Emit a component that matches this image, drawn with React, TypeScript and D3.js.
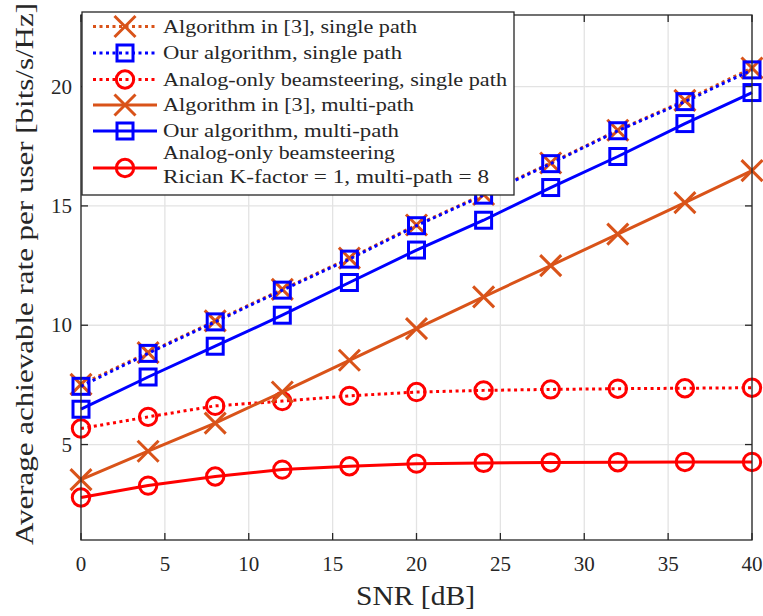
import React from "react";
import * as d3 from "d3";

const snr = [0, 4, 8, 12, 16, 20, 24, 28, 32, 36, 40];
const algSingle = [7.52, 8.85, 10.18, 11.5, 12.81, 14.2, 15.48, 16.8, 18.17, 19.42, 20.78];
const ourSingle = [7.44, 8.82, 10.14, 11.47, 12.77, 14.17, 15.45, 16.77, 18.15, 19.37, 20.7];
const analogSingle = [5.67, 6.16, 6.62, 6.82, 7.04, 7.2, 7.27, 7.31, 7.34, 7.36, 7.38];
const algMulti = [3.53, 4.72, 5.9, 7.2, 8.53, 9.86, 11.19, 12.5, 13.82, 15.14, 16.48];
const ourMulti = [6.48, 7.83, 9.12, 10.42, 11.79, 13.15, 14.4, 15.77, 17.07, 18.45, 19.75];
const analogMulti = [2.78, 3.28, 3.66, 3.95, 4.09, 4.2, 4.23, 4.25, 4.26, 4.27, 4.27];

const xTicks = [0, 5, 10, 15, 20, 25, 30, 35, 40];
const yTicks = [5, 10, 15, 20];

const ORANGE = "#D95319";
const BLUE = "#0000FF";
const RED = "#FF0000";

type Marker = "x" | "square" | "circle";
interface Series {
  label: string[];
  values: number[];
  color: string;
  dotted: boolean;
  marker: Marker;
}

const series: Series[] = [
  { label: ["Algorithm in [3], single path"], values: algSingle, color: ORANGE, dotted: true, marker: "x" },
  { label: ["Our algorithm, single path"], values: ourSingle, color: BLUE, dotted: true, marker: "square" },
  { label: ["Analog-only beamsteering, single path"], values: analogSingle, color: RED, dotted: true, marker: "circle" },
  { label: ["Algorithm in [3], multi-path"], values: algMulti, color: ORANGE, dotted: false, marker: "x" },
  { label: ["Our algorithm, multi-path"], values: ourMulti, color: BLUE, dotted: false, marker: "square" },
  { label: ["Analog-only beamsteering", "Rician K-factor = 1, multi-path = 8"], values: analogMulti, color: RED, dotted: false, marker: "circle" },
];

// layout: rendered widths of legend label lines (px)
const legendTextWidths = [[254], [239], [344], [251], [236], [232, 326]];

const W = 763;
const H = 616;
const left = 81;
const right = 752;
const top = 15;
const bottom = 540;
const FONT = "'Liberation Serif', 'Times New Roman', serif";
const AX = "#262626";
const SW = 3;

function MarkerShape({ type, cx, cy, color }: { type: Marker; cx: number; cy: number; color: string }) {
  if (type === "x") {
    const s = 10.5;
    return (
      <path
        d={`M${cx - s},${cy - s}L${cx + s},${cy + s}M${cx - s},${cy + s}L${cx + s},${cy - s}`}
        stroke={color}
        strokeWidth={SW}
        fill="none"
      />
    );
  }
  if (type === "square") {
    const s = 8;
    return <rect x={cx - s} y={cy - s} width={2 * s} height={2 * s} stroke={color} strokeWidth={SW} fill="none" />;
  }
  return <circle cx={cx} cy={cy} r={8.7} stroke={color} strokeWidth={SW} fill="none" />;
}

export default function App() {
  const x = d3.scaleLinear().domain([0, 40]).range([left, right]);
  const y = d3.scaleLinear().domain([1, 23]).range([bottom, top]);
  const line = d3
    .line<number>()
    .x((_, i) => x(snr[i]))
    .y((d) => y(d));

  const legX = 82;
  const legY = 12;
  const legW = 432;
  const legH = 183;
  const rowYs = [26.5, 53, 79.5, 105, 131, 168];

  return (
    <svg width={W} height={H} style={{ position: "absolute", left: 0, top: 0, background: "#fff" }}>
      <rect x={0} y={0} width={W} height={H} fill="#fff" />
      {xTicks.map((t) => (
        <line key={"gx" + t} x1={x(t)} x2={x(t)} y1={top} y2={bottom} stroke="#e3e3e3" strokeWidth={1.3} />
      ))}
      {yTicks.map((t) => (
        <line key={"gy" + t} x1={left} x2={right} y1={y(t)} y2={y(t)} stroke="#e3e3e3" strokeWidth={1.3} />
      ))}
      {xTicks.map((t) => (
        <g key={"tx" + t}>
          <line x1={x(t)} x2={x(t)} y1={bottom} y2={bottom - 7} stroke={AX} strokeWidth={1.3} />
          <line x1={x(t)} x2={x(t)} y1={top} y2={top + 7} stroke={AX} strokeWidth={1.3} />
          <text x={x(t)} y={571} textAnchor="middle" fontFamily={FONT} fontSize={21} fill={AX}>
            {t}
          </text>
        </g>
      ))}
      {yTicks.map((t) => (
        <g key={"ty" + t}>
          <line x1={left} x2={left + 7} y1={y(t)} y2={y(t)} stroke={AX} strokeWidth={1.3} />
          <line x1={right} x2={right - 7} y1={y(t)} y2={y(t)} stroke={AX} strokeWidth={1.3} />
          <text x={72} y={y(t)} dy="0.34em" textAnchor="end" fontFamily={FONT} fontSize={21} fill={AX}>
            {t}
          </text>
        </g>
      ))}
      {series.map((s, si) => (
        <g key={"s" + si}>
          <path
            d={line(s.values) || ""}
            fill="none"
            stroke={s.color}
            strokeWidth={SW}
            strokeDasharray={s.dotted ? "3,3.5" : undefined}
          />
          {s.values.map((v, i) => (
            <MarkerShape key={i} type={s.marker} cx={x(snr[i])} cy={y(v)} color={s.color} />
          ))}
        </g>
      ))}
      <rect x={left} y={top} width={right - left} height={bottom - top} fill="none" stroke={AX} strokeWidth={1.3} />
      <text
        x={415.5}
        y={605}
        textAnchor="middle"
        fontFamily={FONT}
        fontSize={27}
        fill={AX}
        textLength={119}
        lengthAdjust="spacingAndGlyphs"
      >
        SNR [dB]
      </text>
      <text
        transform={`translate(33,274) rotate(-90)`}
        textAnchor="middle"
        fontFamily={FONT}
        fontSize={26}
        fill={AX}
        textLength={542}
        lengthAdjust="spacingAndGlyphs"
      >
        Average achievable rate per user [bits/s/Hz]
      </text>
      <rect x={legX} y={legY} width={legW} height={legH} fill="#fff" stroke={AX} strokeWidth={1.3} />
      {series.map((s, si) => {
        const ry = rowYs[si];
        return (
          <g key={"l" + si}>
            <line
              x1={93}
              x2={157}
              y1={ry}
              y2={ry}
              stroke={s.color}
              strokeWidth={SW}
              strokeDasharray={s.dotted ? "3,3.5" : undefined}
            />
            <MarkerShape type={s.marker} cx={125} cy={ry} color={s.color} />
            {s.label.map((l, li) => (
              <text
                key={li}
                x={163}
                y={s.label.length === 1 ? ry : 153 + li * 24}
                dy="0.34em"
                fontFamily={FONT}
                fontSize={19}
                fill={AX}
                textLength={legendTextWidths[si][li]}
                lengthAdjust="spacingAndGlyphs"
              >
                {l}
              </text>
            ))}
          </g>
        );
      })}
    </svg>
  );
}
